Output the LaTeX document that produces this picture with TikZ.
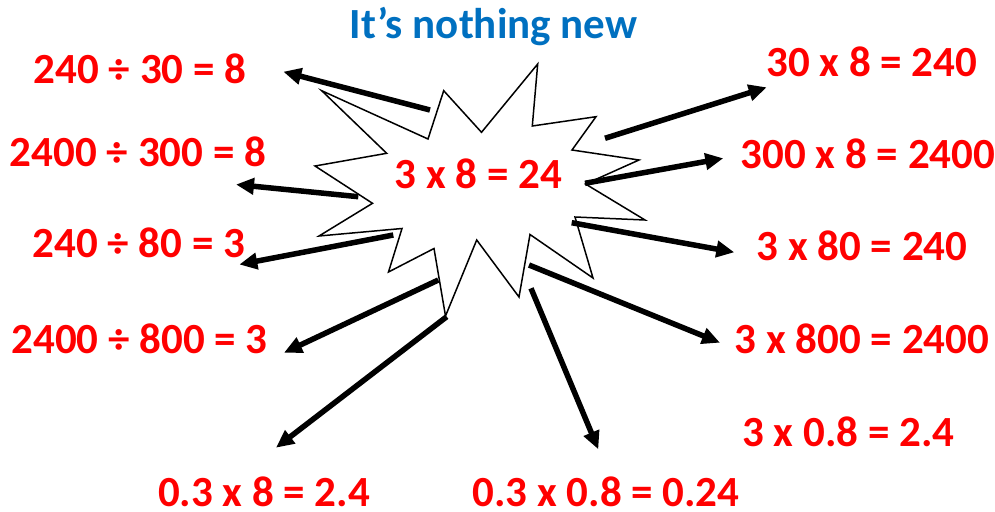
\documentclass[tikz,border=0pt]{standalone}
\usepackage{fontspec}
\setmainfont{Carlito}
\usetikzlibrary{arrows.meta}

\definecolor{titleblue}{RGB}{0,112,192}

\tikzset{
  eqn/.style={text=red, font=\fontsize{43}{43}\selectfont\bfseries, inner sep=0pt, anchor=base},
  arr/.style={line width=5.5pt, -{Triangle[length=18pt,width=16pt]}},
}

\begin{document}
\begin{tikzpicture}[x=1pt, y=-1pt]
    \useasboundingbox (0,0) rectangle (995,511);

    % Title
    \node[eqn, text=titleblue] (title) at (493.5,38.3) {It’s nothing new};

    % Star
    \draw[line width=1.5pt, line join=miter, fill=white]
      (537.7,64) -- (532.3,126) -- (596,116.7) -- (572,150) -- (639,160)
      -- (585.5,184) -- (645,220) -- (575,217) -- (593,278) -- (530,234.5)
      -- (519,297) -- (476.7,240) -- (445.5,316) -- (434,248.5) -- (388.5,272)
      -- (402,228.5) -- (319,236) -- (372.5,203.3) -- (315,166) -- (386.7,153.3)
      -- (321.7,90.7) -- (428,139) -- (443.7,90.7) -- (481.5,132.3) -- cycle;
    \node[eqn] (centre) at (478.3,188.3) {3 x 8 = 24};

    % Equations
    \foreach \n/\x/\y/\t in {d1/140/83.3/240 ÷ 30 = 8, d2/138/166.7/2400 ÷ 300 = 8,
                             d3/138.8/257.7/240 ÷ 80 = 3, d4/139.5/353.3/2400 ÷ 800 = 3,
                             m1/871.7/76/30 x 8 = 240, m2/868/168.3/300 x 8 = 2400,
                             m3/862/260/3 x 80 = 240, m4/862/353.3/3 x 800 = 2400,
                             m5/848.3/446.7/3 x 0.8 = 2.4, m6/264/506/0.3 x 8 = 2.4,
                             m7/606/506/0.3 x 0.8 = 0.24} {
      \node[eqn] (\n) at (\x,\y) {\t};
    }

    % Arrow ends
    \foreach \n/\x/\y in {s1/430/110, s2/605/138.3, s3/585/183.3, s4/571.7/222.7,
                          s5/529/265, s6/531/288.3, s7/446.7/316.7, s8/438.3/280,
                          s9/393.3/235, s10/358.3/196.7,
                          t1/283.3/71.7, t2/766.7/87.3, t3/723.3/158.3, t4/734.3/252.3,
                          t5/720/342.7, t6/598.3/449.3, t7/276/447.7, t8/284/352.7,
                          t9/239.3/264.5, t10/236/184.5} {
      \coordinate (\n) at (\x,\y);
    }

    % Arrows
    \foreach \i in {1,...,10} {
      \draw[arr] (s\i) -- (t\i);
    }
\end{tikzpicture}
\end{document}
